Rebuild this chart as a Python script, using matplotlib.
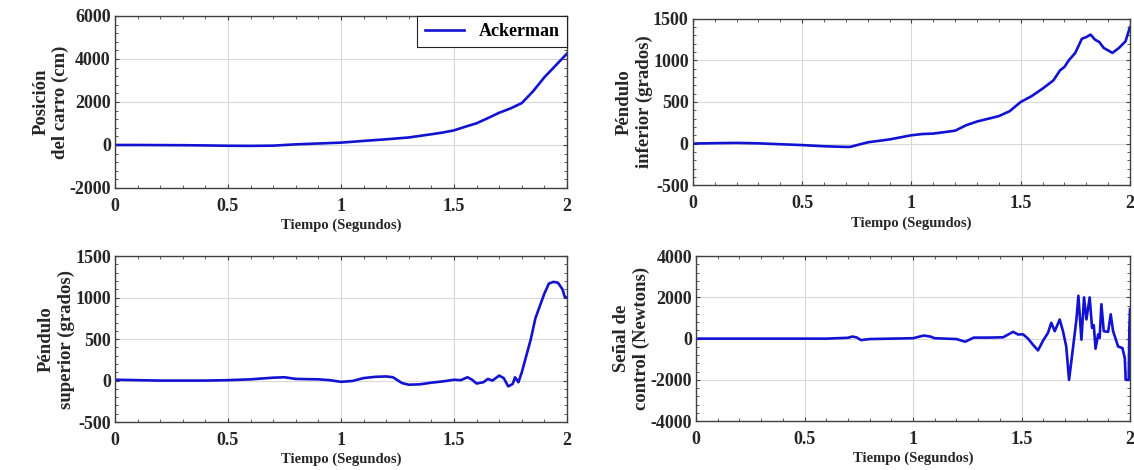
#!/usr/bin/env python3
"""
Respuesta del doble pendulo invertido sobre carro (controlador Ackerman)
"""
import numpy as np
import matplotlib.pyplot as plt
from matplotlib.ticker import AutoMinorLocator, MultipleLocator

# Posicion del carro (cm)
t_carro = [0, 0.1, 0.2, 0.3, 0.4, 0.5, 0.6, 0.7, 0.8, 0.9, 1.0, 1.1, 1.2, 1.3,
           1.4, 1.45, 1.5, 1.55, 1.6, 1.65, 1.7, 1.75, 1.8, 1.85, 1.9, 1.95, 2.0]
carro = [0, 0, -5, -10, -20, -35, -40, -30, 30, 70, 110, 190, 265, 350,
         500, 580, 680, 850, 1010, 1250, 1500, 1700, 1950, 2500, 3150, 3700, 4250]

# Pendulo inferior (grados)
t_inf = [0, 0.1, 0.2, 0.3, 0.4, 0.5, 0.6, 0.7, 0.72, 0.76, 0.8, 0.9, 1.0, 1.05,
         1.1, 1.2, 1.25, 1.3, 1.4, 1.45, 1.5, 1.55, 1.6, 1.65, 1.68, 1.7, 1.72,
         1.75, 1.78, 1.8, 1.82, 1.84, 1.86, 1.88, 1.9, 1.92, 1.95, 1.98, 2.0]
inferior = [0, 5, 8, 3, -8, -18, -32, -40, -40, -12, 15, 50, 100, 115,
            120, 155, 220, 265, 330, 390, 500, 570, 660, 760, 880, 920, 1000,
            1090, 1260, 1280, 1310, 1250, 1220, 1150, 1120, 1090, 1150, 1230, 1400]

# Pendulo superior (grados)
t_sup = [0, 0.1, 0.2, 0.4, 0.5, 0.6, 0.7, 0.75, 0.8, 0.9, 0.95, 1.0, 1.05, 1.1,
         1.15, 1.2, 1.23, 1.27, 1.3, 1.35, 1.4, 1.45, 1.5, 1.53, 1.56, 1.58,
         1.6, 1.63, 1.65, 1.67, 1.7, 1.72, 1.74, 1.76, 1.77, 1.785, 1.8, 1.82,
         1.84, 1.86, 1.88, 1.9, 1.92, 1.94, 1.96, 1.98, 1.99, 2.0]
superior = [10, 5, 0, 0, 5, 15, 35, 40, 20, 15, 5, -15, -5, 30,
            45, 50, 40, -30, -50, -45, -25, -10, 10, 5, 40, 10,
            -35, -20, 20, 0, 60, 30, -70, -40, 40, -20, 100, 300,
            500, 750, 900, 1050, 1170, 1190, 1180, 1100, 1010, 1000]

# Senal de control (Newtons)
t_ctrl = [0, 0.6, 0.7, 0.72, 0.74, 0.76, 0.8, 0.9, 1.0, 1.05, 1.08, 1.1, 1.2,
          1.24, 1.28, 1.35, 1.415, 1.461, 1.484, 1.507, 1.53, 1.553, 1.576,
          1.599, 1.622, 1.637, 1.653, 1.676, 1.691, 1.706, 1.719, 1.737, 1.753,
          1.762, 1.776, 1.788, 1.799, 1.814, 1.825, 1.833, 1.841, 1.853, 1.86,
          1.868, 1.879, 1.899, 1.911, 1.922, 1.945, 1.965, 1.976, 1.98, 1.994,
          1.997, 2.0]
control = [0, 0, 40, 100, 60, -70, -20, 0, 20, 150, 100, 20, -20,
           -150, 50, 50, 65, 330, 200, 210, 0, -300, -570,
           -100, 280, 770, 360, 930, 360, -380, -2000, -460, 930,
           2080, -50, 2000, 930, 2000, 520, 650, -490, 200, 30,
           1670, 360, 330, 1180, 360, -380, -460, -950, -2000, -2000,
           520, 1430]

ylabels = ["Posición\ndel carro (cm)", "Péndulo\ninferior (grados)",
           "Péndulo\nsuperior (grados)", "Señal de\ncontrol (Newtons)"]

COLOR = "#1212d2"
TXT = "#262626"
plt.rcParams["font.family"] = ["Liberation Serif", "DejaVu Serif"]
plt.rcParams["font.weight"] = "bold"
plt.rcParams["axes.unicode_minus"] = False


def formato(ax, datos, ylabel, ylim, ystep):
    t, v = datos
    ax.plot(t, v, color=COLOR, lw=1.9, label="Ackerman")
    ax.set_xlim(0, 2)
    ax.set_ylim(*ylim)
    ax.xaxis.set_major_locator(MultipleLocator(0.5))
    ax.yaxis.set_major_locator(MultipleLocator(ystep))
    ax.xaxis.set_minor_locator(AutoMinorLocator(5))
    ax.yaxis.set_minor_locator(AutoMinorLocator(5))
    ax.xaxis.set_major_formatter(plt.FuncFormatter(lambda x, p: f"{x:g}"))
    ax.grid(True, which="major", color="#d9d9d9", lw=0.8)
    ax.tick_params(which="both", direction="in", top=True, right=True,
                   colors="#404040", labelcolor=TXT, labelsize=13)
    ax.tick_params(which="major", length=3)
    ax.tick_params(which="minor", length=2)
    ax.tick_params(axis="x", which="major", pad=7)
    ax.tick_params(axis="y", which="major", pad=3)
    for s in ax.spines.values():
        s.set_color("#404040")
        s.set_linewidth(1.0)
    ax.set_xlabel("Tiempo (Segundos)", fontsize=10.5, fontweight="bold",
                  color=TXT, labelpad=3)
    ax.set_ylabel(ylabel, fontsize=13.5, fontweight="bold", color=TXT,
                  labelpad=0)


def main():
    fig = plt.figure(figsize=(11.34, 4.70), dpi=100)
    ax1 = fig.add_axes([0.1014, 0.600, 0.3986, 0.366])
    ax2 = fig.add_axes([0.611, 0.606, 0.3854, 0.354])
    ax3 = fig.add_axes([0.1014, 0.102, 0.3986, 0.353])
    ax4 = fig.add_axes([0.6138, 0.104, 0.3827, 0.351])

    formato(ax1, (t_carro, carro), ylabels[0], (-2000, 6000), 2000)
    formato(ax2, (t_inf, inferior), ylabels[1], (-500, 1500), 500)
    formato(ax3, (t_sup, superior), ylabels[2], (-500, 1500), 500)
    formato(ax4, (t_ctrl, control), ylabels[3], (-4000, 4000), 2000)

    leg = ax1.legend(loc="upper right", borderaxespad=0, fancybox=False,
                     framealpha=1, edgecolor="#202020", handlelength=2.2,
                     prop={"size": 13, "weight": "bold"})
    leg.get_frame().set_linewidth(0.8)

    fig.savefig("out.png", dpi=100)


if __name__ == "__main__":
    main()
